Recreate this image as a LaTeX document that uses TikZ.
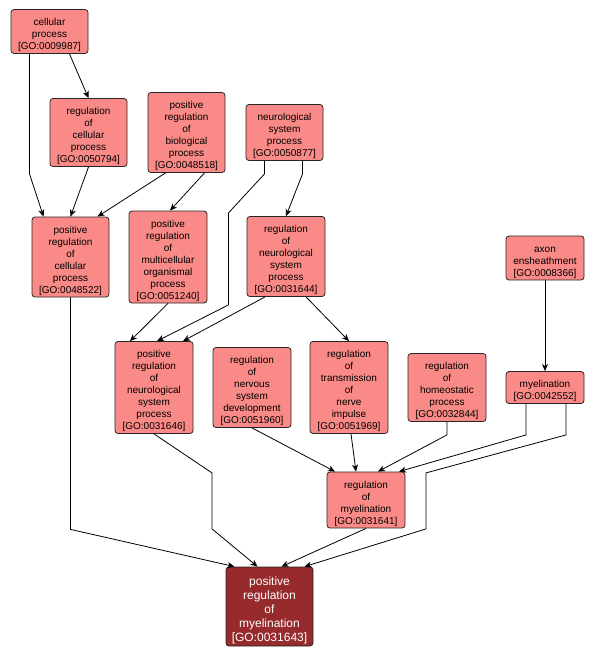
\documentclass[tikz,border=0pt]{standalone}
\usepackage{fontspec}
\setmainfont{Liberation Sans}
\usetikzlibrary{arrows.meta}
\definecolor{termfill}{RGB}{250,138,135}
\definecolor{targetfill}{RGB}{150,42,45}
\begin{document}
\begin{tikzpicture}[x=1pt,y=-1pt,
  box/.style={draw=black!85,line width=0.8pt,rounded corners=3pt,align=center,inner xsep=2pt,inner ysep=1pt},
  term/.style={box,fill=termfill,font=\fontsize{10}{12}\selectfont,text width=74pt,
    execute at begin node=\rule{0pt}{15pt},execute at end node=\rule[-3pt]{0pt}{3pt}},
  target/.style={box,fill=targetfill,text=white,text width=83pt,font=\fontsize{12}{14}\selectfont,
    execute at begin node=\rule{0pt}{17pt},execute at end node=\rule[-4pt]{0pt}{4pt}},
  edge/.style={draw=black,line width=0.8pt,-{Stealth[length=7pt,width=6pt,inset=2pt]}}]
\useasboundingbox (0,0) rectangle (595,659);
\node[term,text width=73pt] (cp) at (49.5,31.5) {cellular\\process\\{[GO:0009987]}};
\node[term,text width=73pt] (rcp) at (88.5,132.5) {regulation\\of\\cellular\\process\\{[GO:0050794]}};
\node[term,text width=73pt] (prbp) at (186.5,132.5) {positive\\regulation\\of\\biological\\process\\{[GO:0048518]}};
\node[term,text width=73pt] (nsp) at (284.5,132.5) {neurological\\system\\process\\{[GO:0050877]}};
\node[term,text width=73pt] (prcp) at (70.5,257) {positive\\regulation\\of\\cellular\\process\\{[GO:0048522]}};
\node[term] (prmop) at (168,257) {positive\\regulation\\of\\multicellular\\organismal\\process\\{[GO:0051240]}};
\node[term] (rnsp) at (286,256.5) {regulation\\of\\neurological\\system\\process\\{[GO:0031644]}};
\node[term] (ae) at (545,258) {axon\\ensheathment\\{[GO:0008366]}};
\node[term] (prnsp) at (154,387.5) {positive\\regulation\\of\\neurological\\system\\process\\{[GO:0031646]}};
\node[term] (rnsd) at (252,387.5) {regulation\\of\\nervous\\system\\development\\{[GO:0051960]}};
\node[term] (rtni) at (349,387.5) {regulation\\of\\transmission\\of\\nerve\\impulse\\{[GO:0051969]}};
\node[term] (rhp) at (447,387.5) {regulation\\of\\homeostatic\\process\\{[GO:0032844]}};
\node[term] (my) at (545,387.5) {myelination\\{[GO:0042552]}};
\node[term] (rmy) at (366,500) {regulation\\of\\myelination\\{[GO:0031641]}};
\node[target] (prmy) at (269.5,606.5) {positive\\regulation\\of\\myelination\\{[GO:0031643]}};

\draw[edge] ([xshift=-20pt]cp.south) -- ++(0,120) -- ([xshift=-27pt]prcp.north);
\draw[edge] ([xshift=20pt]cp.south) -- (rcp.north);
\draw[edge] (rcp.south) -- (prcp.north);
\draw[edge] ([xshift=-21pt]prbp.south) -- ([xshift=27pt]prcp.north);
\draw[edge] ([xshift=18pt]prbp.south) -- ([xshift=2pt]prmop.north);
\draw[edge] ([xshift=-20pt]nsp.south) -- ++(0,13) -- ++(-36,39) -- ++(0,92) -- ([xshift=3pt]prnsp.north);
\draw[edge] ([xshift=18pt]nsp.south) -- ++(0,13) -- (rnsp.north);
\draw[edge] (prmop.south) -- ([xshift=-24pt]prnsp.north);
\draw[edge] ([xshift=-21pt]rnsp.south) -- ([xshift=29pt]prnsp.north);
\draw[edge] ([xshift=20pt]rnsp.south) -- (rtni.north);
\draw[edge] (ae.south) -- (my.north);
\draw[edge] (prcp.south) -- ++(0,232) -- ([xshift=-35pt]prmy.north);
\draw[edge] (prnsp.south) -- ++(58,39) -- ++(0,56) -- ([xshift=-12pt]prmy.north);
\draw[edge] (rnsd.south) -- ([xshift=-31pt]rmy.north);
\draw[edge] ([xshift=2pt]rtni.south) -- ([xshift=-10pt]rmy.north);
\draw[edge] (rhp.south) -- ++(0,13) -- ([xshift=12pt]rmy.north);
\draw[edge] ([xshift=-19pt]my.south) -- ++(0,31) -- ([xshift=33pt]rmy.north);
\draw[edge] ([xshift=21pt]my.south) -- ++(0,31) -- ++(-140,38) -- ++(0,56) -- ([xshift=35pt]prmy.north);
\draw[edge] (rmy.south) -- ([xshift=12pt]prmy.north);
\end{tikzpicture}
\end{document}
